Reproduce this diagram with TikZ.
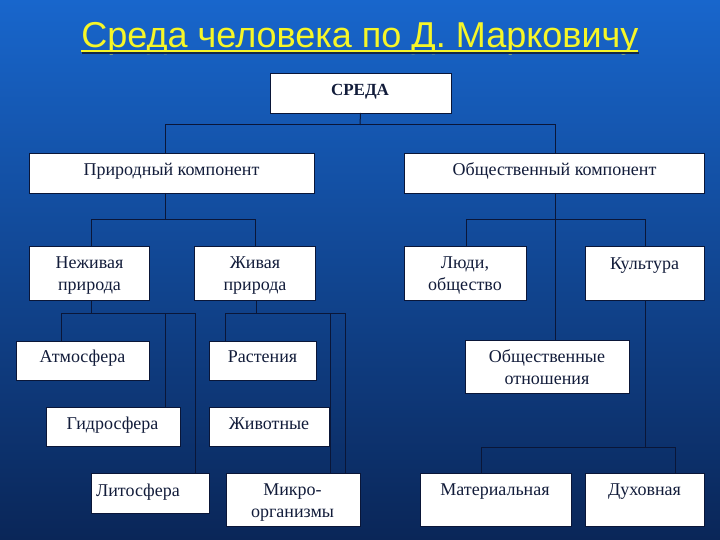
\documentclass[tikz,border=0pt]{standalone}
\usepackage{fontspec}
\setmainfont{Liberation Serif}
\newfontfamily\titlefont{Liberation Sans}
\usetikzlibrary{shadows}
\definecolor{bgtop}{RGB}{24,102,204}
\definecolor{bgmid}{RGB}{14,76,164}
\definecolor{bgbot}{RGB}{10,38,88}
\definecolor{ink}{RGB}{18,28,58}
\definecolor{wire}{RGB}{10,22,56}
\definecolor{ttl}{RGB}{246,246,40}
\definecolor{ttlshadow}{RGB}{20,40,70}
\begin{document}
\begin{tikzpicture}[x=1pt,y=-1pt,
  box/.style={draw=wire, line width=0.8pt, fill=white, inner sep=0pt, outer sep=0pt,
    drop shadow={shadow xshift=1.3pt, shadow yshift=-1.3pt, fill=black, opacity=0.55}},
  lbl/.style={text=ink, font=\fontsize{18}{22}\selectfont, align=center, inner sep=0pt, anchor=base},
  wirel/.style={draw=wire, line width=1pt}]
\useasboundingbox (0,0) rectangle (720,540);
\fill[top color=bgtop, middle color=bgmid, bottom color=bgbot] (0,0) rectangle (720,540);

% title
\node[font=\titlefont\fontsize{36}{40}\selectfont, text=ttl, anchor=base, inner sep=0pt] (title) at (360,48) {Среда человека по Д. Марковичу};
\draw[ttlshadow, line width=1.6pt] (82,53.2) -- (639,53.2);
\draw[ttl, line width=1.8pt] (81,51) -- (638,51);

% boxes
\node[box, minimum width=181pt, minimum height=40pt, anchor=north west] (sreda) at (270,73) {};
\node[box, minimum width=285pt, minimum height=40pt, anchor=north west] (prir) at (29,153) {};
\node[box, minimum width=300pt, minimum height=40pt, anchor=north west] (obsh) at (404,153) {};
\node[box, minimum width=120pt, minimum height=54pt, anchor=north west] (nezh) at (29,246) {};
\node[box, minimum width=121pt, minimum height=54pt, anchor=north west] (zhiv) at (194,246) {};
\node[box, minimum width=122pt, minimum height=54pt, anchor=north west] (lyudi) at (404,246) {};
\node[box, minimum width=119pt, minimum height=54pt, anchor=north west] (kult) at (585,246) {};
\node[box, minimum width=133pt, minimum height=39pt, anchor=north west] (atm) at (16,341) {};
\node[box, minimum width=107pt, minimum height=39pt, anchor=north west] (rast) at (209,341) {};
\node[box, minimum width=134pt, minimum height=39pt, anchor=north west] (gidro) at (46,407) {};
\node[box, minimum width=120pt, minimum height=39pt, anchor=north west] (zhivot) at (209,407) {};
\node[box, minimum width=118pt, minimum height=40pt, anchor=north west] (lito) at (91,473) {};
\node[box, minimum width=134pt, minimum height=53pt, anchor=north west] (mikro) at (226,473) {};
\node[box, minimum width=164pt, minimum height=53pt, anchor=north west] (otn) at (465,340) {};
\node[box, minimum width=151pt, minimum height=53pt, anchor=north west] (mat) at (420,473) {};
\node[box, minimum width=119pt, minimum height=53pt, anchor=north west] (duh) at (585,473) {};

% labels (anchor base = baseline of the last line)
\node[lbl, font=\bfseries\fontsize{17}{22}\selectfont] (sredaT) at (360,96) {СРЕДА};
\node[lbl] (prirT) at (171.5,176) {Природный компонент};
\node[lbl] (obshT) at (554.5,176) {Общественный компонент};
\node[lbl] (nezhT) at (89.5,290) {Неживая\\природа};
\node[lbl] (zhivT) at (255,290) {Живая\\природа};
\node[lbl] (lyudiT) at (465,290) {Люди,\\общество};
\node[lbl] (kultT) at (644.5,269) {Культура};
\node[lbl] (atmT) at (82.5,362) {Атмосфера};
\node[lbl] (rastT) at (262.5,362) {Растения};
\node[lbl] (gidroT) at (112.5,429) {Гидросфера};
\node[lbl] (zhivotT) at (269,429) {Животные};
\node[lbl] (litoT) at (138,496) {Литосфера};
\node[lbl] (mikroT) at (292.5,517) {Микро-\\организмы};
\node[lbl] (otnT) at (547,384) {Общественные\\отношения};
\node[lbl] (matT) at (495,495) {Материальная};
\node[lbl] (duhT) at (644.5,495) {Духовная};

% connectors
\coordinate (s1) at (360,125);
\draw[wirel] (sreda.south) -- (s1);
\draw[wirel] (s1) -| (prir.north -| 165,0);
\draw[wirel] (s1) -| (obsh.north -| 555,0);

\coordinate (p1) at (165,220);
\draw[wirel] (prir.south -| 165,0) -- (p1);
\draw[wirel] (p1) -| (nezh.north -| 91,0);
\draw[wirel] (p1) -| (zhiv.north -| 255,0);

\coordinate (o1) at (555,220);
\draw[wirel] (obsh.south -| 555,0) -- (otn.north -| 555,0);
\draw[wirel] (o1) -| (lyudi.north -| 466,0);
\draw[wirel] (o1) -| (kult.north -| 645,0);

\coordinate (n1) at (91,313);
\draw[wirel] (nezh.south -| 91,0) -- (n1);
\draw[wirel] (n1) -| (atm.north -| 61,0);
\draw[wirel] (n1) -| (gidro.north -| 165,0);
\draw[wirel] (n1) -| (lito.north -| 195,0);

\coordinate (z1) at (256,313);
\draw[wirel] (zhiv.south -| 256,0) -- (z1);
\draw[wirel] (z1) -| (rast.north -| 225,0);
\draw[wirel] (z1) -| (mikro.north -| 330,0);
\draw[wirel] (z1) -| (mikro.north -| 345,0);

\coordinate (k1) at (645,447);
\draw[wirel] (kult.south -| 645,0) -- (k1);
\draw[wirel] (k1) -| (mat.north -| 481,0);
\draw[wirel] (k1) -| (duh.north -| 675,0);
\end{tikzpicture}
\end{document}
